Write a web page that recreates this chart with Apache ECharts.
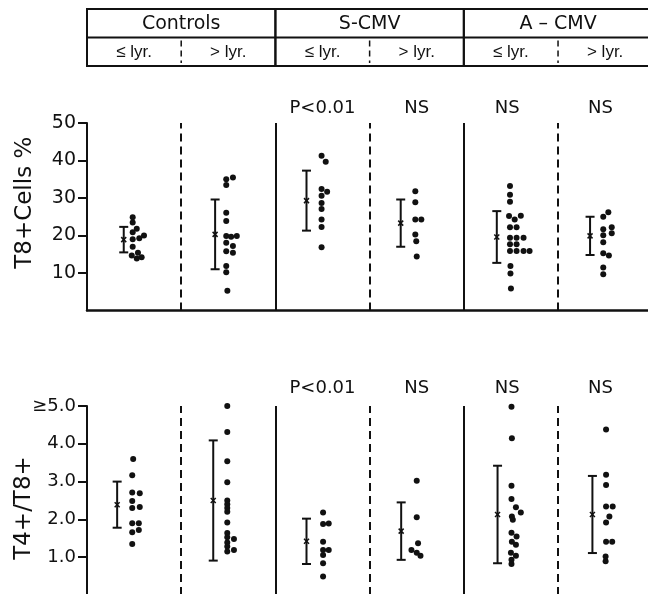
<!DOCTYPE html>
<html>
<head>
<meta charset="utf-8">
<script src="https://cdn.jsdelivr.net/npm/echarts@6.0.0/dist/echarts.min.js"></script>
<style>
html, body { margin: 0; padding: 0; background: #fff; }
#chart { width: 648px; height: 594px; }
</style>
</head>
<body>
<div id="chart"></div>
<script>
// header: three groups, each split by age
const groupNames = ['Controls', 'S-CMV', 'A – CMV']
const ageLabels = ['≤ lyr.', '> lyr.', '≤ lyr.', '> lyr.', '≤ lyr.', '> lyr.']
const pLabels = ['P<0.01', 'NS', 'NS', 'NS']
const pLabelX = [2.5, 3.5, 4.46, 5.45]

// T8+ cells % (upper panel)
const t8Ticks = [10, 20, 30, 40, 50]
const t8Mean = [18.9, 20.3, 29.3, 23.3, 19.6, 19.9]
const t8Sd = [3.4, 9.3, 8.0, 6.3, 6.9, 5.1]
const t8BarX = [0.39, 0.36, 0.33, 0.33, 0.35, 0.34]
const t8Ctrl1 = [24.9, 23.5, 21.8, 20.9, 20.0, 19.3, 19.0, 17.0, 15.4, 14.7, 13.9, 14.2]
const t8Ctrl2 = [35.0, 35.5, 33.5, 26.1, 23.9, 19.9, 19.7, 19.9, 18.1, 17.2, 15.8, 15.4, 11.9, 10.2, 5.3]
const t8S1 = [41.3, 39.7, 32.4, 31.7, 30.6, 28.7, 27.1, 24.3, 22.3, 16.9]
const t8S2 = [31.8, 28.9, 24.3, 24.3, 20.3, 18.5, 14.4]
const t8A1 = [33.2, 30.9, 29.0, 25.2, 24.3, 25.3, 22.2, 22.2, 19.4, 19.4, 19.4, 17.7, 17.7, 15.9, 15.9, 15.9, 15.9, 11.9, 9.9, 5.9]
const t8A2 = [26.2, 25.0, 21.7, 22.2, 20.6, 20.1, 18.2, 15.3, 14.7, 11.5, 9.7]
// sideways position of each dot inside its column
const t8Ctrl1Dx = [0.485, 0.485, 0.528, 0.485, 0.605, 0.555, 0.485, 0.485, 0.541, 0.475, 0.528, 0.58]
const t8Ctrl2Dx = [0.478, 0.549, 0.478, 0.478, 0.478, 0.478, 0.53, 0.59, 0.478, 0.549, 0.478, 0.549, 0.478, 0.478, 0.49]
const t8S1Dx = [0.49, 0.534, 0.49, 0.549, 0.49, 0.49, 0.49, 0.49, 0.49, 0.49]
const t8S2Dx = [0.485, 0.485, 0.485, 0.549, 0.485, 0.495, 0.5]
const t8A1Dx = [0.49, 0.49, 0.49, 0.48, 0.54, 0.605, 0.49, 0.56, 0.49, 0.56, 0.634, 0.49, 0.56, 0.49, 0.56, 0.634, 0.698, 0.495, 0.495, 0.5]
const t8A2Dx = [0.534, 0.48, 0.48, 0.57, 0.57, 0.48, 0.48, 0.48, 0.54, 0.48, 0.48]

// T4+/T8+ ratio (lower panel)
const ratioTicks = [1, 2, 3, 4, 5]
const ratioTickLabels = ['1.0', '2.0', '3.0', '4.0', '≥5.0']
const ratioMean = [2.39, 2.5, 1.42, 1.69, 2.13, 2.13]
const ratioSd = [0.61, 1.59, 0.6, 0.76, 1.29, 1.02]
const ratioBarX = [0.32, 0.34, 0.33, 0.335, 0.358, 0.365]
const ratioCtrl1 = [3.60, 3.17, 2.71, 2.69, 2.49, 2.30, 2.33, 1.90, 1.90, 1.66, 1.72, 1.35]
const ratioCtrl2 = [5.0, 4.31, 3.54, 2.98, 2.50, 2.40, 2.30, 2.20, 1.92, 1.64, 1.53, 1.48, 1.39, 1.28, 1.15, 1.19]
const ratioS1 = [2.18, 1.88, 1.89, 1.41, 1.19, 1.19, 1.06, 0.84, 0.49]
const ratioS2 = [3.02, 2.06, 1.37, 1.19, 1.12, 1.04]
const ratioA1 = [4.98, 4.15, 2.89, 2.54, 2.32, 2.18, 2.08, 1.99, 1.65, 1.55, 1.41, 1.33, 1.12, 1.04, 0.93, 0.82]
const ratioA2 = [4.38, 3.18, 2.91, 2.34, 2.34, 2.08, 1.92, 1.41, 1.41, 1.02, 0.89]
const ratioCtrl1Dx = [0.49, 0.48, 0.48, 0.56, 0.48, 0.48, 0.56, 0.48, 0.55, 0.48, 0.55, 0.48]
const ratioCtrl2Dx = [0.489, 0.489, 0.489, 0.489, 0.489, 0.489, 0.489, 0.489, 0.489, 0.489, 0.489, 0.56, 0.489, 0.489, 0.489, 0.56]
const ratioS1Dx = [0.506, 0.506, 0.566, 0.506, 0.506, 0.566, 0.506, 0.506, 0.506]
const ratioS2Dx = [0.5, 0.5, 0.514, 0.444, 0.5, 0.54]
const ratioA1Dx = [0.506, 0.51, 0.506, 0.506, 0.553, 0.605, 0.51, 0.52, 0.506, 0.56, 0.51, 0.553, 0.5, 0.553, 0.506, 0.506]
const ratioA2Dx = [0.51, 0.51, 0.51, 0.51, 0.58, 0.545, 0.51, 0.51, 0.575, 0.505, 0.505]

const ink = '#111'
const font = '"DejaVu Sans", sans-serif'
const xMax = 5.955

function dots(groups, offsets) {
  const out = []
  groups.forEach((vals, g) => {
    vals.forEach((v, i) => out.push([g + offsets[g][i], v]))
  })
  return out
}

function bars(mean, sd, barX) {
  return mean.map((m, g) => [g + barX[g], m, sd[g]])
}

function errorBar(params, api) {
  const x = api.value(0), m = api.value(1), sd = api.value(2)
  const top = api.coord([x, m + sd])
  const bot = api.coord([x, m - sd])
  const mid = api.coord([x, m])
  const cap = 4.5, s = 2.5
  const style = { stroke: ink, lineWidth: 2 }
  return {
    type: 'group',
    children: [
      { type: 'line', shape: { x1: top[0], y1: top[1], x2: bot[0], y2: bot[1] }, style: style },
      { type: 'line', shape: { x1: top[0] - cap, y1: top[1], x2: top[0] + cap, y2: top[1] }, style: style },
      { type: 'line', shape: { x1: bot[0] - cap, y1: bot[1], x2: bot[0] + cap, y2: bot[1] }, style: style },
      { type: 'line', shape: { x1: mid[0] - s, y1: mid[1] - s, x2: mid[0] + s, y2: mid[1] + s }, style: { stroke: ink, lineWidth: 1.5 } },
      { type: 'line', shape: { x1: mid[0] - s, y1: mid[1] + s, x2: mid[0] + s, y2: mid[1] - s }, style: { stroke: ink, lineWidth: 1.5 } }
    ]
  }
}

function textItem(fontSize) {
  return function (params, api) {
    const p = api.coord([api.value(0), api.value(1)])
    return {
      type: 'text',
      style: {
        text: pLabels[api.value(2)], x: p[0], y: p[1],
        align: 'center', verticalAlign: 'middle',
        fontSize: fontSize, fontFamily: font, fill: ink
      }
    }
  }
}

function headerGroup(params, api) {
  const x0 = api.value(0)
  const a = api.coord([x0, 0]), b = api.coord([x0 + 2, 2]), m = api.coord([x0 + 1, 0.5]), r = api.coord([x0, 1])
  return {
    type: 'group',
    children: [
      { type: 'rect', shape: { x: a[0], y: a[1], width: b[0] - a[0], height: b[1] - a[1] },
        style: { fill: 'none', stroke: ink, lineWidth: 2 } },
      { type: 'line', shape: { x1: a[0], y1: r[1], x2: b[0], y2: r[1] }, style: { stroke: ink, lineWidth: 2 } },
      { type: 'text', style: { text: groupNames[api.value(1)], x: m[0], y: m[1] + 1, align: 'center', verticalAlign: 'middle',
        fontSize: 19, fontFamily: font, fill: ink } }
    ]
  }
}

function headerAge(params, api) {
  const x0 = api.value(0)
  const m = api.coord([x0 + 0.5, 1.5]), a = api.coord([x0, 1]), b = api.coord([x0, 2])
  const children = [
    { type: 'text', style: { text: ageLabels[api.value(1)], x: m[0], y: m[1] + 1, align: 'center', verticalAlign: 'middle',
      fontSize: 17, fontFamily: '"Liberation Sans", sans-serif', fill: ink } }
  ]
  if (api.value(1) % 2 === 1) {
    children.push({ type: 'line', shape: { x1: a[0], y1: a[1] + 3, x2: b[0], y2: b[1] - 3 },
      style: { stroke: ink, lineWidth: 1.5, lineDash: [6, 4] } })
  }
  return { type: 'group', children: children }
}

const dividers = {
  silent: true,
  symbol: 'none',
  label: { show: false },
  lineStyle: { color: ink, width: 2, type: 'solid' },
  data: [
    { xAxis: 1, lineStyle: { type: [8, 5] } },
    { xAxis: 2 },
    { xAxis: 3, lineStyle: { type: [8, 5] } },
    { xAxis: 4 },
    { xAxis: 5, lineStyle: { type: [8, 5] } }
  ]
}

function yAxis(grid, max, ticks, labels, name, size, pad, gap) {
  return {
    gridIndex: grid, type: 'value', min: 0, max: max,
    axisLine: { show: true, lineStyle: { color: ink, width: 2 } },
    axisTick: { show: true, length: 9, customValues: ticks, lineStyle: { color: ink, width: 2 } },
    axisLabel: { customValues: ticks, margin: 11, color: ink, fontSize: size, fontFamily: font,
      formatter: v => labels ? labels[ticks.indexOf(v)] : String(v) },
    splitLine: { show: false },
    name: name, nameLocation: 'middle', nameGap: gap, nameMoveOverlap: false,
    nameTextStyle: { color: ink, fontSize: 23, fontFamily: font, padding: pad }
  }
}

const chart = echarts.init(document.getElementById('chart'))
chart.setOption({
  animation: false,
  backgroundColor: '#fff',
  grid: [
    { left: 87, right: 0, top: 9, height: 57, outerBoundsMode: 'none' },
    { left: 87, right: 0, top: 123, height: 187.5, outerBoundsMode: 'none' },
    { left: 87, right: 0, top: 406, bottom: -1, outerBoundsMode: 'none' }
  ],
  xAxis: [
    { gridIndex: 0, type: 'value', min: 0, max: xMax, show: false },
    { gridIndex: 1, type: 'value', min: 0, max: xMax,
      axisLine: { show: true, onZero: false, lineStyle: { color: ink, width: 2.5 } },
      axisTick: { show: false }, axisLabel: { show: false }, splitLine: { show: false } },
    { gridIndex: 2, type: 'value', min: 0, max: xMax, show: false }
  ],
  yAxis: [
    { gridIndex: 0, type: 'value', min: 0, max: 2, inverse: true, show: false },
    yAxis(1, 50, t8Ticks, null, 'T8+Cells %', 19, [0, 0, 0, 28], 50),
    yAxis(2, 5, ratioTicks, ratioTickLabels, 'T4+/T8+', 18, [0, 15, 0, 0], 51)
  ],
  series: [
    { type: 'custom', xAxisIndex: 0, yAxisIndex: 0, clip: false, renderItem: headerGroup,
      data: [[0, 0], [2, 1], [4, 2]] },
    { type: 'custom', xAxisIndex: 0, yAxisIndex: 0, clip: false, renderItem: headerAge,
      data: [[0, 0], [1, 1], [2, 2], [3, 3], [4, 4], [5, 5]] },
    { type: 'scatter', xAxisIndex: 1, yAxisIndex: 1, symbolSize: 6, itemStyle: { color: ink, opacity: 1 },
      data: dots([t8Ctrl1, t8Ctrl2, t8S1, t8S2, t8A1, t8A2],
        [t8Ctrl1Dx, t8Ctrl2Dx, t8S1Dx, t8S2Dx, t8A1Dx, t8A2Dx]),
      markLine: dividers },
    { type: 'custom', xAxisIndex: 1, yAxisIndex: 1, clip: false, renderItem: errorBar,
      data: bars(t8Mean, t8Sd, t8BarX) },
    { type: 'custom', xAxisIndex: 1, yAxisIndex: 1, clip: false, renderItem: textItem(18),
      data: pLabelX.map((x, i) => [x, 54, i]) },
    { type: 'scatter', xAxisIndex: 2, yAxisIndex: 2, symbolSize: 6, itemStyle: { color: ink, opacity: 1 }, clip: false,
      data: dots([ratioCtrl1, ratioCtrl2, ratioS1, ratioS2, ratioA1, ratioA2],
        [ratioCtrl1Dx, ratioCtrl2Dx, ratioS1Dx, ratioS2Dx, ratioA1Dx, ratioA2Dx]),
      markLine: dividers },
    { type: 'custom', xAxisIndex: 2, yAxisIndex: 2, clip: false, renderItem: errorBar,
      data: bars(ratioMean, ratioSd, ratioBarX) },
    { type: 'custom', xAxisIndex: 2, yAxisIndex: 2, clip: false, renderItem: textItem(18),
      data: pLabelX.map((x, i) => [x, 5.47, i]) }
  ]
})
</script>
</body>
</html>
